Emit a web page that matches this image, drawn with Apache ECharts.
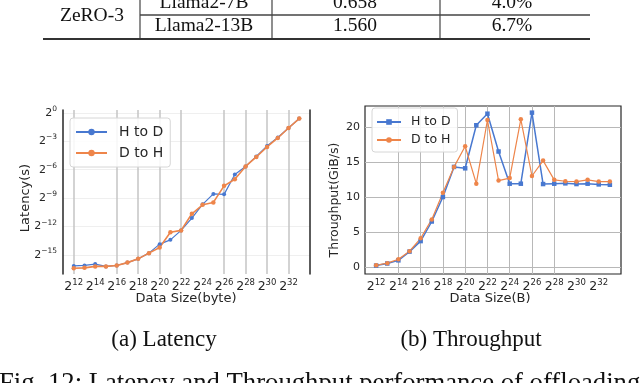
<!DOCTYPE html>
<html>
<head>
<meta charset="utf-8">
<script src="https://cdn.jsdelivr.net/npm/echarts@6/dist/echarts.min.js"></script>
<style>
  html, body { margin: 0; padding: 0; background: #fff; }
  #chart { width: 640px; height: 383px; }
</style>
</head>
<body>
<div id="chart"></div>
<script>
// data size, as the power of two of the transfer size
const sizeExp = [12, 13, 14, 15, 16, 17, 18, 19, 20, 21, 22, 23, 24, 25, 26, 27, 28, 29, 30, 31, 32, 33];

// latency, as log2 of seconds
const latencyHtoD = [-16.15, -16.1, -15.95, -16.2, -16.1, -15.8, -15.4, -14.8, -13.85, -13.4, -12.4, -11.1, -9.65, -8.55, -8.6, -6.5, -5.65, -4.6, -3.5, -2.6, -1.6, -0.6];
const latencyDtoH = [-16.4, -16.35, -16.2, -16.2, -16.1, -15.8, -15.4, -14.8, -14.2, -12.6, -12.4, -10.65, -9.7, -9.45, -7.7, -7.0, -5.65, -4.65, -3.6, -2.65, -1.6, -0.6];

// throughput, GiB/s
const throughputHtoD = [0.2, 0.5, 0.95, 2.2, 3.7, 6.5, 10.0, 14.3, 14.1, 20.25, 21.9, 16.5, 11.9, 11.9, 22.05, 11.85, 11.9, 11.95, 11.85, 11.9, 11.8, 11.75];
const throughputDtoH = [0.25, 0.55, 1.1, 2.25, 4.1, 6.8, 10.6, 14.3, 17.25, 11.9, 21.0, 12.35, 12.7, 21.1, 13.0, 15.2, 12.45, 12.25, 12.2, 12.45, 12.2, 12.2];

const sizeTicks = [12, 14, 16, 18, 20, 22, 24, 26, 28, 30, 32];
const latencyTicks = [0, -3, -6, -9, -12, -15];
const throughputTicks = [0, 5, 10, 15, 20];

const seriesNames = ['H to D', 'D to H'];

const tableRows = [
  ['Llama2-7B', '0.658', '4.0%'],
  ['Llama2-13B', '1.560', '6.7%']
];

// vertical grid lines that show in the picture
const latencyGridX = [12, 16, 18, 20, 22, 26, 28, 30, 32];
const throughputGridX = [14, 16, 18, 20, 22, 24, 26, 28];

const BLUE = '#4878d0';
const ORANGE = '#ee854a';
const SANS = 'DejaVu Sans';
const INK = '#262626';
const NONE = 'rgba(0,0,0,0)';

function sup(v, list) {
  if (list.indexOf(v) < 0) return '';
  return '{b|2}{s|' + String(v).replace('-', '\u2212') + '}';
}

function lineColors(min, max, shown, color) {
  const out = [];
  for (let v = min; v <= max; v++) out.push(shown.indexOf(v) >= 0 ? color : NONE);
  return out;
}

function pairs(ys) {
  return sizeExp.map((x, i) => [x, ys[i]]);
}

const chart = echarts.init(document.getElementById('chart'));

const graphic = [];
// table fragment at the top
graphic.push(
  { type: 'line', shape: { x1: 140, y1: 15, x2: 590, y2: 15 }, style: { stroke: '#444', lineWidth: 1.5 } },
  { type: 'line', shape: { x1: 43, y1: 39, x2: 590, y2: 39 }, style: { stroke: '#333', lineWidth: 2 } },
  { type: 'line', shape: { x1: 140, y1: 0, x2: 140, y2: 38 }, style: { stroke: '#444', lineWidth: 1.2 } },
  { type: 'line', shape: { x1: 272, y1: 0, x2: 272, y2: 38 }, style: { stroke: '#444', lineWidth: 1.2 } },
  { type: 'line', shape: { x1: 440, y1: 0, x2: 440, y2: 38 }, style: { stroke: '#444', lineWidth: 1.2 } },
  { type: 'text', x: 92, y: 16, style: { text: 'ZeRO-3', font: '19.5px "Liberation Serif"', fill: '#111', align: 'center', verticalAlign: 'middle' } }
);
const colX = [204, 355, 512];
const rowY = [3, 26];
tableRows.forEach((row, r) => {
  row.forEach((cell, c) => {
    graphic.push({ type: 'text', x: colX[c], y: rowY[r], style: { text: cell, font: '19.5px "Liberation Serif"', fill: '#111', align: 'center', verticalAlign: 'middle' } });
  });
});
// axis names
graphic.push(
  { type: 'text', x: 26, y: 198, rotation: Math.PI / 2, style: { text: 'Latency(s)', font: '13px "DejaVu Sans"', fill: INK, align: 'center', verticalAlign: 'middle' } },
  { type: 'text', x: 186, y: 299, style: { text: 'Data Size(byte)', font: '13px "DejaVu Sans"', fill: INK, align: 'center', verticalAlign: 'middle' } },
  { type: 'text', x: 335, y: 200, rotation: Math.PI / 2, style: { text: 'Throughput(GiB/s)', font: '12.5px "DejaVu Sans"', fill: INK, align: 'center', verticalAlign: 'middle' } },
  { type: 'text', x: 490, y: 299, style: { text: 'Data Size(B)', font: '13px "DejaVu Sans"', fill: INK, align: 'center', verticalAlign: 'middle' } }
);
// captions
graphic.push(
  { type: 'text', x: 164, y: 340, style: { text: '(a) Latency', font: '23px "Liberation Serif"', fill: '#111', align: 'center', verticalAlign: 'middle' } },
  { type: 'text', x: 471, y: 340, style: { text: '(b) Throughput', font: '23px "Liberation Serif"', fill: '#111', align: 'center', verticalAlign: 'middle' } },
  { type: 'text', x: -1, y: 384, style: { text: 'Fig. 12: Latency and Throughput performance of offloading', font: '26.7px "Liberation Serif"', fill: '#111', align: 'left', verticalAlign: 'middle' } }
);

const xRich = { b: { fontSize: 12.5, fontFamily: SANS, color: INK, lineHeight: 18 }, s: { fontSize: 8.5, fontFamily: SANS, color: INK, lineHeight: 7, verticalAlign: 'top' } };
const yRichLeft = { b: { fontSize: 11, fontFamily: SANS, color: INK, lineHeight: 16 }, s: { fontSize: 7.5, fontFamily: SANS, color: INK, lineHeight: 6, verticalAlign: 'top' } };

const option = {
  animation: false,
  backgroundColor: '#fff',
  graphic: graphic,
  grid: [
    { left: 63, top: 110, width: 247, height: 164 },
    { left: 365, top: 106, width: 256, height: 168, show: true, borderColor: INK, borderWidth: 1.2 }
  ],
  legend: [
    {
      left: 70, top: 118, orient: 'vertical', selectedMode: false,
      data: seriesNames.map(n => 'a|' + n),
      formatter: n => n.split('|')[1],
      itemWidth: 31, itemHeight: 8, itemGap: 5,
      padding: [6, 7, 6, 5],
      borderColor: '#d6d6d6', borderWidth: 1, borderRadius: 3, backgroundColor: 'rgba(255,255,255,0.85)',
      textStyle: { fontFamily: SANS, fontSize: 14, color: INK, lineHeight: 16, padding: [0, 0, 0, 7] }
    },
    {
      left: 372, top: 108, orient: 'vertical', selectedMode: false,
      data: seriesNames.map(n => 'b|' + n),
      formatter: n => n.split('|')[1],
      itemWidth: 24, itemHeight: 7, itemGap: 4,
      padding: [7, 7, 5, 4],
      borderColor: '#d6d6d6', borderWidth: 1, borderRadius: 3, backgroundColor: 'rgba(255,255,255,0.85)',
      textStyle: { fontFamily: SANS, fontSize: 12.5, color: INK, lineHeight: 14, padding: [0, 0, 0, 5] }
    }
  ],
  xAxis: [
    {
      gridIndex: 0, type: 'value', min: 11, max: 34, interval: 1,
      axisLine: { show: false }, axisTick: { show: false },
      axisLabel: { margin: 4, formatter: v => sup(v, sizeTicks), rich: xRich },
      splitLine: { show: true, lineStyle: { color: lineColors(11, 34, latencyGridX, '#c4c4c4'), width: 1.5 } }
    },
    {
      gridIndex: 1, type: 'value', min: 11, max: 34, interval: 1,
      axisLine: { show: false }, axisTick: { show: false },
      axisLabel: { margin: 4, formatter: v => sup(v, sizeTicks), rich: xRich },
      splitLine: { show: true, lineStyle: { color: lineColors(11, 34, throughputGridX, '#b8b8b8'), width: 1 } }
    }
  ],
  yAxis: [
    {
      gridIndex: 0, type: 'value', min: -17, max: 0.3, interval: 1,
      axisLine: { show: true, lineStyle: { color: INK, width: 1.5 } }, axisTick: { show: false },
      axisLabel: { margin: 6, formatter: v => sup(v, latencyTicks), rich: yRichLeft },
      splitLine: { show: true, lineStyle: { color: lineColors(-17, 0, latencyTicks, '#efefef'), width: 1 } }
    },
    {
      gridIndex: 0, type: 'value', position: 'right', min: -17, max: 0.3,
      axisLine: { show: true, onZero: false, lineStyle: { color: INK, width: 1.5 } },
      axisTick: { show: false }, axisLabel: { show: false }, splitLine: { show: false }
    },
    {
      gridIndex: 1, type: 'value', min: -1, max: 23, interval: 1,
      axisLine: { show: false }, axisTick: { show: false },
      axisLabel: { margin: 5, fontFamily: SANS, fontSize: 11, color: INK, formatter: v => throughputTicks.indexOf(v) >= 0 ? String(v) : '' },
      splitLine: { show: true, lineStyle: { color: lineColors(-1, 23, throughputTicks, '#b8b8b8'), width: 1 } }
    }
  ],
  series: [
    {
      name: 'a|H to D', type: 'line', xAxisIndex: 0, yAxisIndex: 0, data: pairs(latencyHtoD),
      symbol: 'circle', symbolSize: 4, color: BLUE, lineStyle: { width: 1.2 }
    },
    {
      name: 'a|D to H', type: 'line', xAxisIndex: 0, yAxisIndex: 0, data: pairs(latencyDtoH),
      symbol: 'circle', symbolSize: 4.5, color: ORANGE, lineStyle: { width: 1.6 }
    },
    {
      name: 'b|H to D', type: 'line', xAxisIndex: 1, yAxisIndex: 2, data: pairs(throughputHtoD),
      symbol: 'rect', symbolSize: 4.5, color: BLUE, lineStyle: { width: 1.5 }
    },
    {
      name: 'b|D to H', type: 'line', xAxisIndex: 1, yAxisIndex: 2, data: pairs(throughputDtoH),
      symbol: 'circle', symbolSize: 4.5, color: ORANGE, lineStyle: { width: 1.2 }
    }
  ]
};

chart.setOption(option);
</script>
</body>
</html>
